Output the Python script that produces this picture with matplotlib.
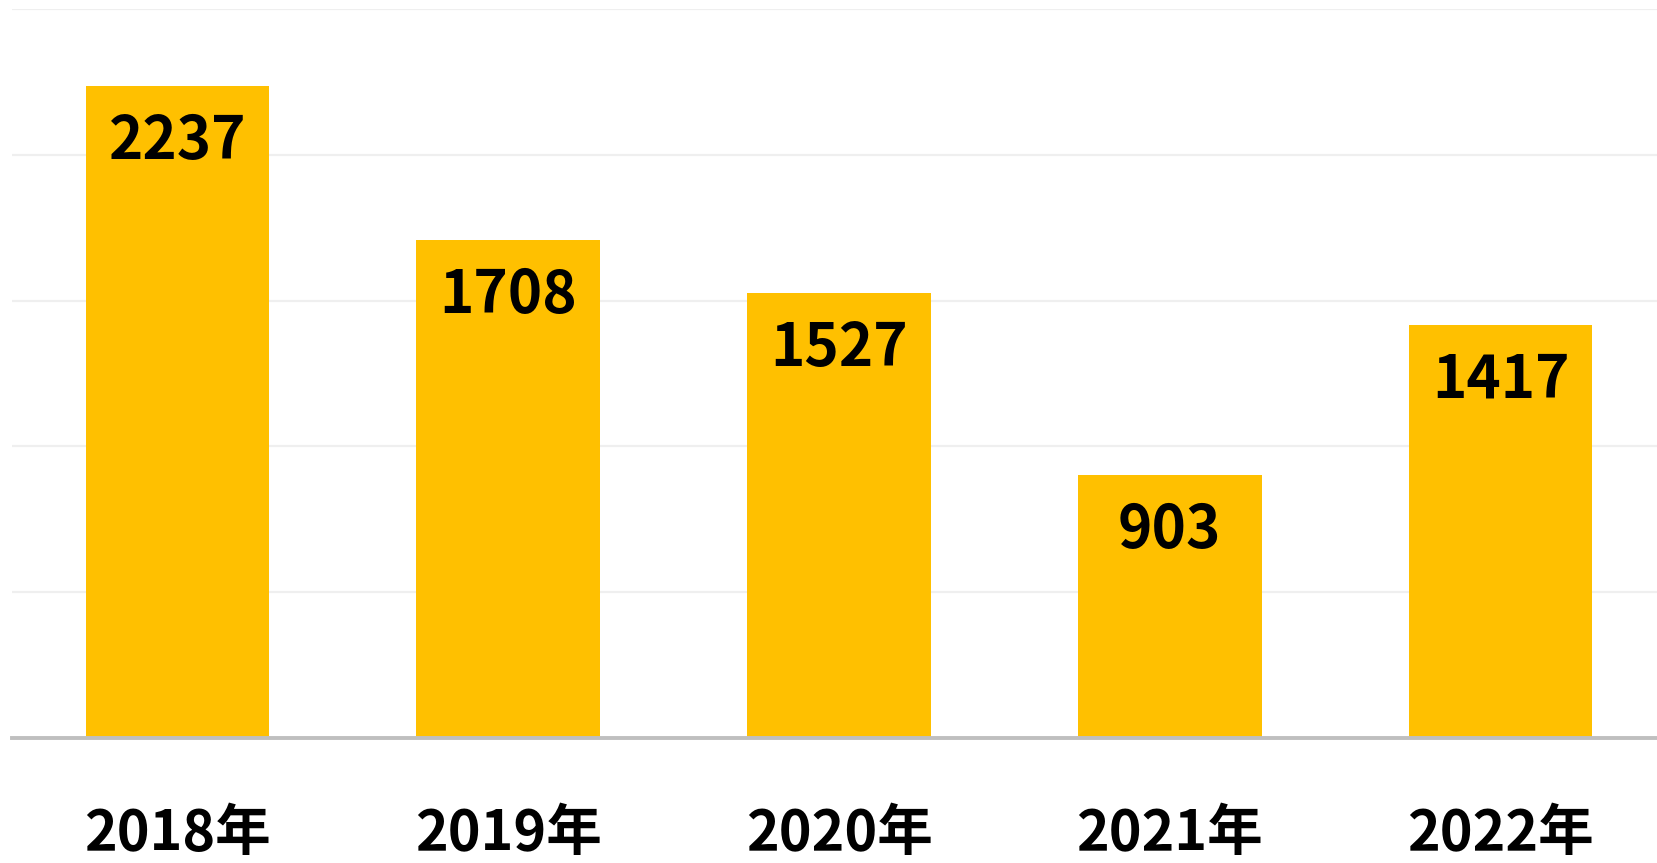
import matplotlib
matplotlib.use('Agg')
import matplotlib.pyplot as plt

plt.rcParams['font.family'] = ['Noto Sans CJK SC', 'DejaVu Sans']

# --- data ---
years  = ['2018年', '2019年', '2020年', '2021年', '2022年']
values = [2237, 1708, 1527, 903, 1417]
yticks = [0, 500, 1000, 1500, 2000, 2500]

BAR_COLOR  = '#FFC000'
GRID_COLOR = '#EFEFEF'
AXIS_COLOR = '#BFBFBF'

W, H = 1657, 863
fig = plt.figure(figsize=(W / 100, H / 100), dpi=100)
ax = fig.add_axes([12 / W, (H - 738) / H, 1 - 12 / W, (738 - 9) / H])

x = list(range(len(years)))
ax.bar(x, values, width=0.555, color=BAR_COLOR, zorder=2)

for xi, v in zip(x, values):
    ax.annotate(f'{v}', (xi, v), xytext=(0, -56), textcoords='offset pixels',
                ha='center', va='center', fontsize=42, fontweight='bold',
                color='black', zorder=3)

ax.set_xlim(-0.5, (W - 177.75) / 330.7)
ax.set_ylim(0, 2500)
ax.set_yticks(yticks)
ax.set_yticklabels([])
ax.yaxis.grid(True, color=GRID_COLOR, lw=1.6, zorder=0)
ax.set_axisbelow(True)

ax.set_xticks(x)
ax.set_xticklabels(years, fontsize=40, fontweight='bold')
ax.tick_params(axis='x', length=0, pad=49)
ax.tick_params(axis='y', length=0)

for s in ['top', 'right', 'left']:
    ax.spines[s].set_visible(False)
ax.spines['bottom'].set_color(AXIS_COLOR)
ax.spines['bottom'].set_linewidth(2.8)
ax.spines['bottom'].set_zorder(3)

fig.savefig('out.png', dpi=100)
